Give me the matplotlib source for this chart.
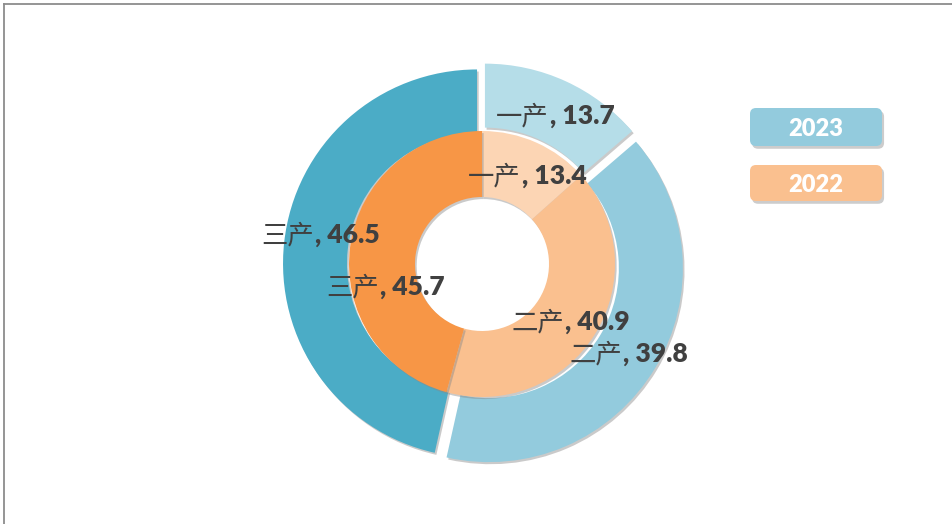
import matplotlib
matplotlib.use("Agg")
import matplotlib.pyplot as plt
from matplotlib.patches import FancyBboxPatch
from matplotlib.lines import Line2D
import matplotlib.patheffects as pe

# ---- data ----
categories = ["一产", "二产", "三产"]
years = ["2023", "2022"]
values_2023 = [13.7, 39.8, 46.5]
values_2022 = [13.4, 40.9, 45.7]

# ---- styles ----
colors_2023 = ["#B5DDE8", "#93CBDD", "#4BACC6"]
colors_2022 = ["#FCD5B4", "#FAC08F", "#F79646"]
legend_colors = ["#93CBDD", "#FAC08F"]
text_color = "#404040"
LATIN = "Lato"
CJK = "Noto Sans CJK SC"

W, H = 953, 524
fig = plt.figure(figsize=(W / 100, H / 100), dpi=100)
ax = fig.add_axes([0, 0, 1, 1])

def py(y):  # pixel-from-top -> data y
    return H - y

center = (482, py(264))
shadow = [pe.SimplePatchShadow(offset=(1.2, -1.5), shadow_rgbFace="#8a8a8a", alpha=0.45), pe.Normal()]

# outer ring (2023), exploded
w_out, _ = ax.pie(values_2023, colors=colors_2023, startangle=90, counterclock=False,
                  radius=194, center=center, explode=[7, 8, 5],
                  wedgeprops=dict(width=64, linewidth=0), frame=True)
# inner ring (2022)
w_in, _ = ax.pie(values_2022, colors=colors_2022, startangle=90, counterclock=False,
                 radius=133, center=center,
                 wedgeprops=dict(width=66, linewidth=0), frame=True)
for w in list(w_out) + list(w_in):
    w.set_path_effects(shadow)
ax.set_xlim(0, W)
ax.set_ylim(0, H)
ax.set_aspect("equal")
ax.axis("off")

# ---- data labels: (anchor x between name and number, center y) ----
label_pos_2023 = [(549, 113.5), (622, 352), (314, 232.5)]
label_pos_2022 = [(521, 174), (564, 319.5), (379, 284.5)]

def put_label(cat, val, pos):
    x, y = pos
    ax.text(x, py(y), cat, ha="right", va="center_baseline", fontsize=19,
            family=[CJK, "DejaVu Sans"], color=text_color)
    ax.text(x + 1, py(y), f", {val}", ha="left", va="center_baseline", fontsize=19,
            family=[LATIN, "DejaVu Sans"], fontweight="heavy", color=text_color)

for c, v, p in zip(categories, values_2023, label_pos_2023):
    put_label(c, v, p)
for c, v, p in zip(categories, values_2022, label_pos_2022):
    put_label(c, v, p)

# ---- legend boxes ----
legend_boxes = [(750, 108, 132, 38), (750, 165, 132, 36)]
for yr, col, (x0, y0, bw, bh) in zip(years, legend_colors, legend_boxes):
    box = FancyBboxPatch((x0, py(y0 + bh)), bw, bh,
                         boxstyle="round,pad=0,rounding_size=6",
                         facecolor=col, edgecolor="none")
    box.set_path_effects([pe.SimplePatchShadow(offset=(1.5, -2), shadow_rgbFace="#808080", alpha=0.4), pe.Normal()])
    ax.add_patch(box)
    ax.text(x0 + bw / 2, py(y0 + bh / 2), yr, ha="center", va="center_baseline",
            fontsize=17, fontweight="heavy", family=[LATIN, "DejaVu Sans"], color="white")

# ---- chart-area border (only top and left visible in crop) ----
fig.add_artist(Line2D([4 / W, 4 / W], [0, 1 - 4 / H], transform=fig.transFigure, color="#8C8C8C", lw=1.3))
fig.add_artist(Line2D([4 / W, 1], [1 - 4 / H, 1 - 4 / H], transform=fig.transFigure, color="#8C8C8C", lw=1.3))

fig.savefig("out.png", dpi=100)
